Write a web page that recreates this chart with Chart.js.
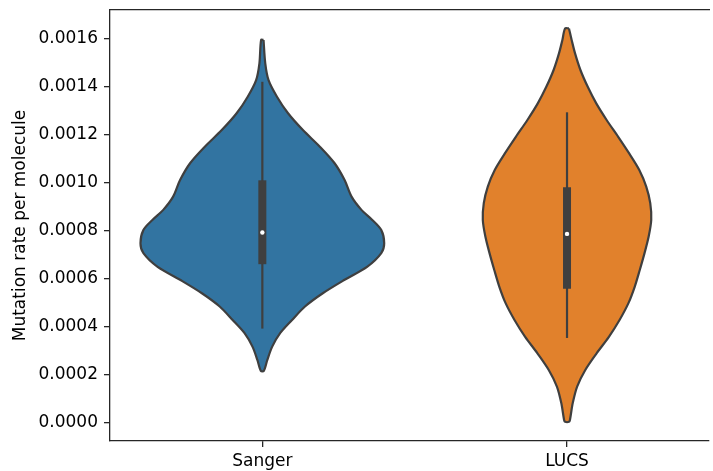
<!DOCTYPE html>
<html>
<head>
<meta charset="utf-8">
<title>Mutation rate per molecule</title>
<script src="https://cdn.jsdelivr.net/npm/chart.js@4.4.0/dist/chart.umd.min.js"></script>
<style>
  html, body { margin: 0; padding: 0; background: #fff; }
  #wrap { width: 713px; height: 471px; }
</style>
</head>
<body>
<div id="wrap"><canvas id="violinChart" width="713" height="471"></canvas></div>
<script>
/* ================================================
   DATA
================================================ */
const CATEGORIES = ['Sanger', 'LUCS'];
const Y_TICKS = [0, 0.0002, 0.0004, 0.0006, 0.0008, 0.0010, 0.0012, 0.0014, 0.0016];

// violin outline: value (top -> bottom) and relative density width
const SANGER_Y = [
  0.001593, 0.001496, 0.001426, 0.001357, 0.001288, 0.001218, 0.001149, 0.001080,
  0.001010, 0.000941, 0.000886, 0.000844, 0.000802, 0.000747, 0.000706, 0.000650,
  0.000595, 0.000539, 0.000484, 0.000428, 0.000373, 0.000317, 0.000262, 0.000216,
];
const SANGER_DENSITY = [
  0.010, 0.024, 0.051, 0.120, 0.211, 0.333, 0.472, 0.593,
  0.675, 0.732, 0.813, 0.902, 0.976, 1.000, 0.976, 0.862,
  0.675, 0.496, 0.350, 0.244, 0.146, 0.081, 0.041, 0.012,
];

const LUCS_Y = [
  0.001641, 0.001593, 0.001537, 0.001468, 0.001398, 0.001329, 0.001260, 0.001190,
  0.001121, 0.001052, 0.000983, 0.000914, 0.000844, 0.000775, 0.000706, 0.000636,
  0.000567, 0.000498, 0.000428, 0.000359, 0.000290, 0.000220, 0.000151, 0.000082,
  0.000012, 0.000004,
];
const LUCS_DENSITY = [
  0.016, 0.038, 0.066, 0.110, 0.170, 0.240, 0.325, 0.420,
  0.510, 0.593, 0.650, 0.683, 0.691, 0.670, 0.636, 0.597,
  0.556, 0.504, 0.431, 0.345, 0.244, 0.150, 0.083, 0.047,
  0.024, 0.016,
];

// [whisker low, q1, median, q3, whisker high]
const SANGER_BOX = [0.000392, 0.000660, 0.000792, 0.001009, 0.001419];
const LUCS_BOX   = [0.000353, 0.000558, 0.000786, 0.000980, 0.001292];

const FILL_COLORS = ['#3274a1', '#e1812c'];
const EDGE = '#3f3f3f';
const AXIS = '#262626';
const HALF_WIDTH = 0.4;

document.addEventListener('DOMContentLoaded', buildViolinChart);

/* ================================================
   HELPERS
================================================ */
function violinOutline(pos, ys, dens) {
  const right = ys.map((y, i) => ({ x: pos + dens[i] * HALF_WIDTH, y }));
  const left  = ys.map((y, i) => ({ x: pos - dens[i] * HALF_WIDTH, y })).reverse();
  const pts = right.concat(left);
  pts.push(pts[0]);
  return pts;
}

function violinDatasets(pos, ys, dens, box, color) {
  return [
    {
      data: violinOutline(pos, ys, dens),
      borderColor: EDGE,
      backgroundColor: color,
      borderWidth: 2.2,
      borderJoinStyle: 'round',
      fill: 'shape',
      tension: 0.3,
      pointRadius: 0,
      order: 3,
    },
    {
      data: [{ x: pos, y: box[0] }, { x: pos, y: box[4] }],
      borderColor: EDGE,
      borderWidth: 2.2,
      borderCapStyle: 'butt',
      fill: false,
      pointRadius: 0,
      order: 2,
    },
    {
      data: [{ x: pos, y: box[1] }, { x: pos, y: box[3] }],
      borderColor: EDGE,
      borderWidth: 8,
      borderCapStyle: 'butt',
      fill: false,
      pointRadius: 0,
      order: 1,
    },
    {
      data: [{ x: pos, y: box[2] }],
      showLine: false,
      pointRadius: 2.2,
      pointBorderWidth: 0,
      pointBackgroundColor: '#ffffff',
      order: 0,
    },
  ];
}

/* ================================================
   CHART
================================================ */
function buildViolinChart() {
  const ctx = document.getElementById('violinChart');
  Chart.defaults.font.family = "'DejaVu Sans', sans-serif";
  Chart.defaults.font.size = 17;
  Chart.defaults.color = '#000';

  const axisGrid = { drawOnChartArea: false, tickLength: 6, color: AXIS, lineWidth: 1.3 };
  const axisBorder = { display: true, color: AXIS, width: 1.3 };

  new Chart(ctx, {
    type: 'line',
    data: {
      datasets: [
        ...violinDatasets(0, SANGER_Y, SANGER_DENSITY, SANGER_BOX, FILL_COLORS[0]),
        ...violinDatasets(1, LUCS_Y, LUCS_DENSITY, LUCS_BOX, FILL_COLORS[1]),
      ].map(d => ({ ...d, xAxisID: 'x', yAxisID: 'y' })),
    },
    options: {
      responsive: false,
      animation: false,
      devicePixelRatio: 1,
      layout: { padding: { top: 10, right: 0, bottom: 0, left: 0 } },
      plugins: { legend: { display: false }, tooltip: { enabled: false } },
      scales: {
        x: {
          type: 'linear',
          min: -0.5,
          max: 1.466,
          afterFit: s => { s.height = 30; s.paddingLeft = 0; s.paddingRight = 0; },
          afterBuildTicks: s => { s.ticks = CATEGORIES.map((c, i) => ({ value: i })); },
          ticks: { callback: v => CATEGORIES[v], padding: 4, maxRotation: 0, autoSkip: false },
          grid: axisGrid,
          border: axisBorder,
        },
        x2: {
          type: 'linear',
          position: 'top',
          display: true,
          afterFit: s => { s.height = 0; s.paddingLeft = 0; s.paddingRight = 0; },
          ticks: { display: false },
          grid: { display: false },
          border: axisBorder,
        },
        y: {
          type: 'linear',
          min: -0.0000757,
          max: 0.0017177,
          afterFit: s => { s.width = 110; s.paddingTop = 0; s.paddingBottom = 0; },
          afterBuildTicks: s => { s.ticks = Y_TICKS.map(v => ({ value: v })); },
          ticks: { callback: v => v.toFixed(4), padding: 6 },
          title: { display: true, text: 'Mutation rate per molecule', padding: { top: 10, bottom: 0 } },
          grid: axisGrid,
          border: axisBorder,
        },
      },
    },
  });
}
</script>
</body>
</html>
